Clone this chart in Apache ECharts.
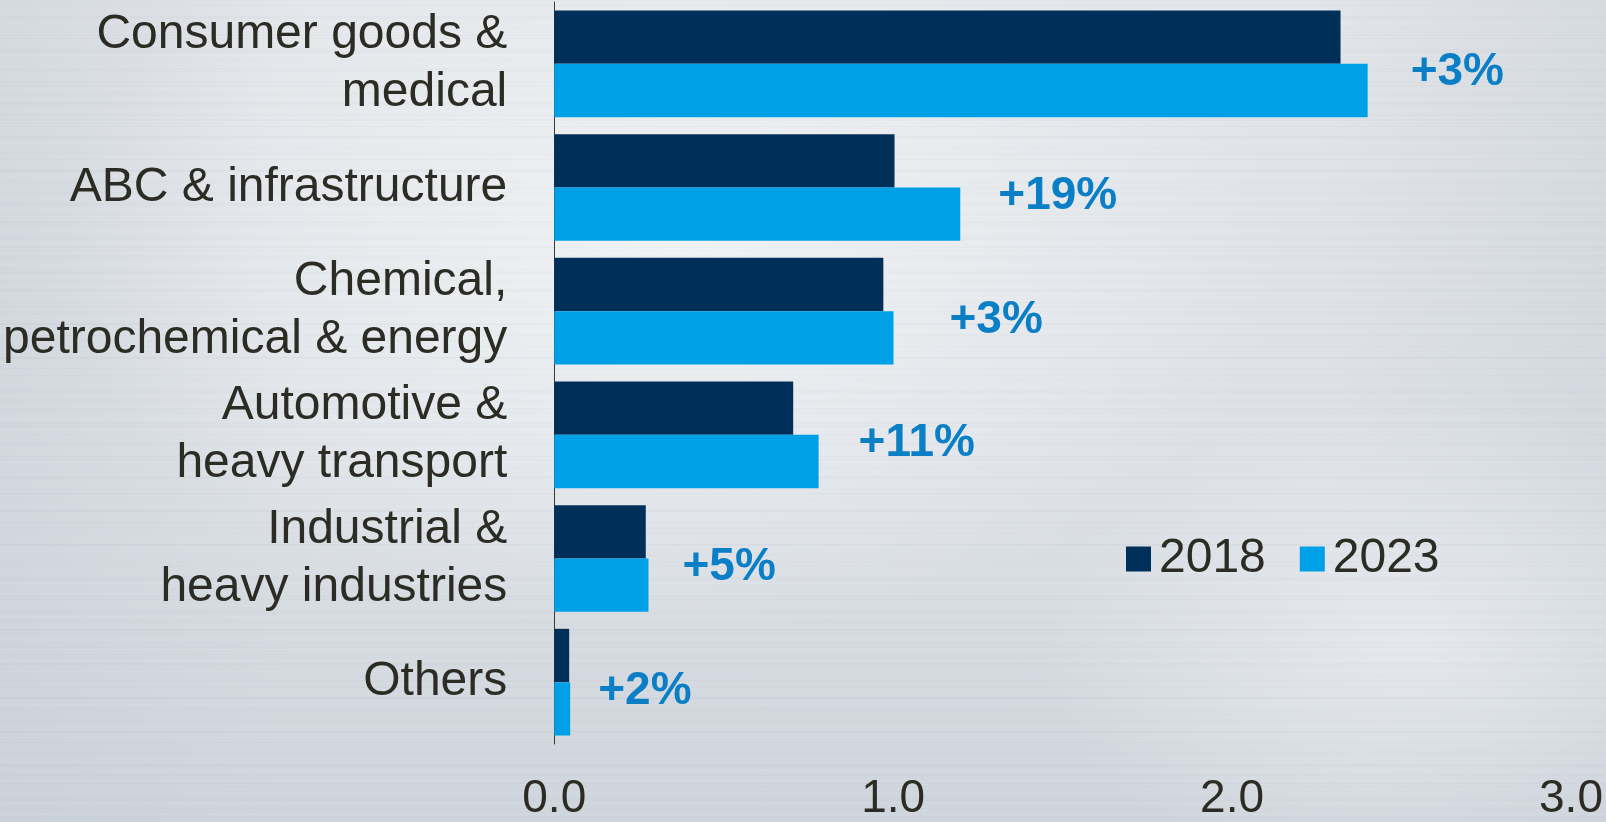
<!DOCTYPE html>
<html>
<head>
<meta charset="utf-8">
<title>Market by segment, 2018 vs 2023</title>
<script src="https://cdn.jsdelivr.net/npm/echarts@6/dist/echarts.min.js"></script>
<style>
  html, body { margin: 0; padding: 0; }
  #chart {
    width: 1606px;
    height: 822px;
    /* brushed-metal backdrop: faint horizontal streaks over a soft grey gradient */
    background:
      repeating-linear-gradient(180deg,
        rgba(255,255,255,0.07) 0px, rgba(255,255,255,0.07) 1px,
        rgba(255,255,255,0) 1px, rgba(255,255,255,0) 5px,
        rgba(110,120,135,0.035) 5px, rgba(110,120,135,0.035) 6px,
        rgba(255,255,255,0) 6px, rgba(255,255,255,0) 11px),
      repeating-linear-gradient(180deg,
        rgba(90,100,115,0.025) 0px, rgba(90,100,115,0.025) 2px,
        rgba(255,255,255,0) 2px, rgba(255,255,255,0) 17px),
      radial-gradient(ellipse 820px 520px at 42% 30%, rgba(243,245,247,0.85), rgba(243,245,247,0) 75%),
      radial-gradient(ellipse 500px 320px at 88% 78%, rgba(236,239,242,0.7), rgba(236,239,242,0) 75%),
      linear-gradient(90deg, rgba(200,207,215,0.5) 0%, rgba(200,207,215,0) 18%, rgba(200,207,215,0) 82%, rgba(200,207,215,0.45) 100%),
      linear-gradient(180deg, #e2e5e9 0%, #dde1e6 55%, #cfd5dc 100%);
  }
</style>
</head>
<body>
<div id="chart"></div>
<script>
// Segments, top to bottom
const categories = [
  'Consumer goods &\nmedical',
  'ABC & infrastructure',
  'Chemical,\npetrochemical & energy',
  'Automotive &\nheavy transport',
  'Industrial &\nheavy industries',
  'Others'
];

// Values per segment
const values2018 = [2.32, 1.004, 0.971, 0.705, 0.27, 0.044];
const values2023 = [2.40, 1.198, 1.001, 0.78, 0.278, 0.047];

// Growth 2018 -> 2023
const growthLabels = ['+3%', '+19%', '+3%', '+11%', '+5%', '+2%'];

// Value axis tick labels
const tickLabels = ['0.0', '1.0', '2.0', '3.0'];

// Horizontal gap between each 2023 bar end and its growth label
const growthLabelGap = [43, 38, 56, 40, 34, 28];

const textColor = '#2c2b24';
const color2018 = '#00305a';
const color2023 = '#00a0e6';
const growthColor = '#0a7fc6';
const font = 'Liberation Sans, Arial, sans-serif';

const chart = echarts.init(document.getElementById('chart'), null, { renderer: 'canvas' });

chart.setOption({
  backgroundColor: 'transparent',
  animation: false,
  grid: { left: 554, right: 35, top: 2, bottom: 76, containLabel: false },
  legend: {
    data: ['2018', '2023'],
    left: 1121,
    top: 530,
    icon: 'rect',
    itemWidth: 25,
    itemHeight: 25,
    itemGap: 34,
    textStyle: {
      color: textColor,
      fontFamily: font,
      fontSize: 48,
      padding: [0, 0, 0, 3]
    }
  },
  xAxis: {
    type: 'value',
    min: 0,
    max: 3,
    interval: 1,
    splitLine: { show: false },
    axisLine: { show: false },
    axisTick: { show: false },
    axisLabel: {
      margin: 32,
      color: textColor,
      fontFamily: font,
      fontSize: 46,
      formatter: (v) => tickLabels[Math.round(v)]
    }
  },
  yAxis: {
    type: 'category',
    inverse: true,
    data: categories,
    axisLine: { show: true, lineStyle: { color: '#3a3a36', width: 1 } },
    axisTick: { show: false },
    axisLabel: {
      margin: 47,
      color: textColor,
      fontFamily: font,
      fontSize: 48,
      lineHeight: 58,
      align: 'right',
      padding: [6, 0, 0, 0]
    }
  },
  series: [
    {
      name: '2018',
      type: 'bar',
      data: values2018,
      barGap: '0%',
      barCategoryGap: '13.7%',
      itemStyle: { color: color2018 },
      silent: true
    },
    {
      name: '2023',
      type: 'bar',
      data: values2023.map((v, i) => ({
        value: v,
        label: { distance: growthLabelGap[i] }
      })),
      barGap: '0%',
      barCategoryGap: '13.7%',
      itemStyle: { color: color2023 },
      silent: true,
      label: {
        show: true,
        position: 'right',
        offset: [0, -18],
        color: growthColor,
        fontFamily: font,
        fontWeight: 'bold',
        fontSize: 46,
        formatter: (p) => growthLabels[p.dataIndex]
      }
    }
  ]
});
</script>
</body>
</html>
